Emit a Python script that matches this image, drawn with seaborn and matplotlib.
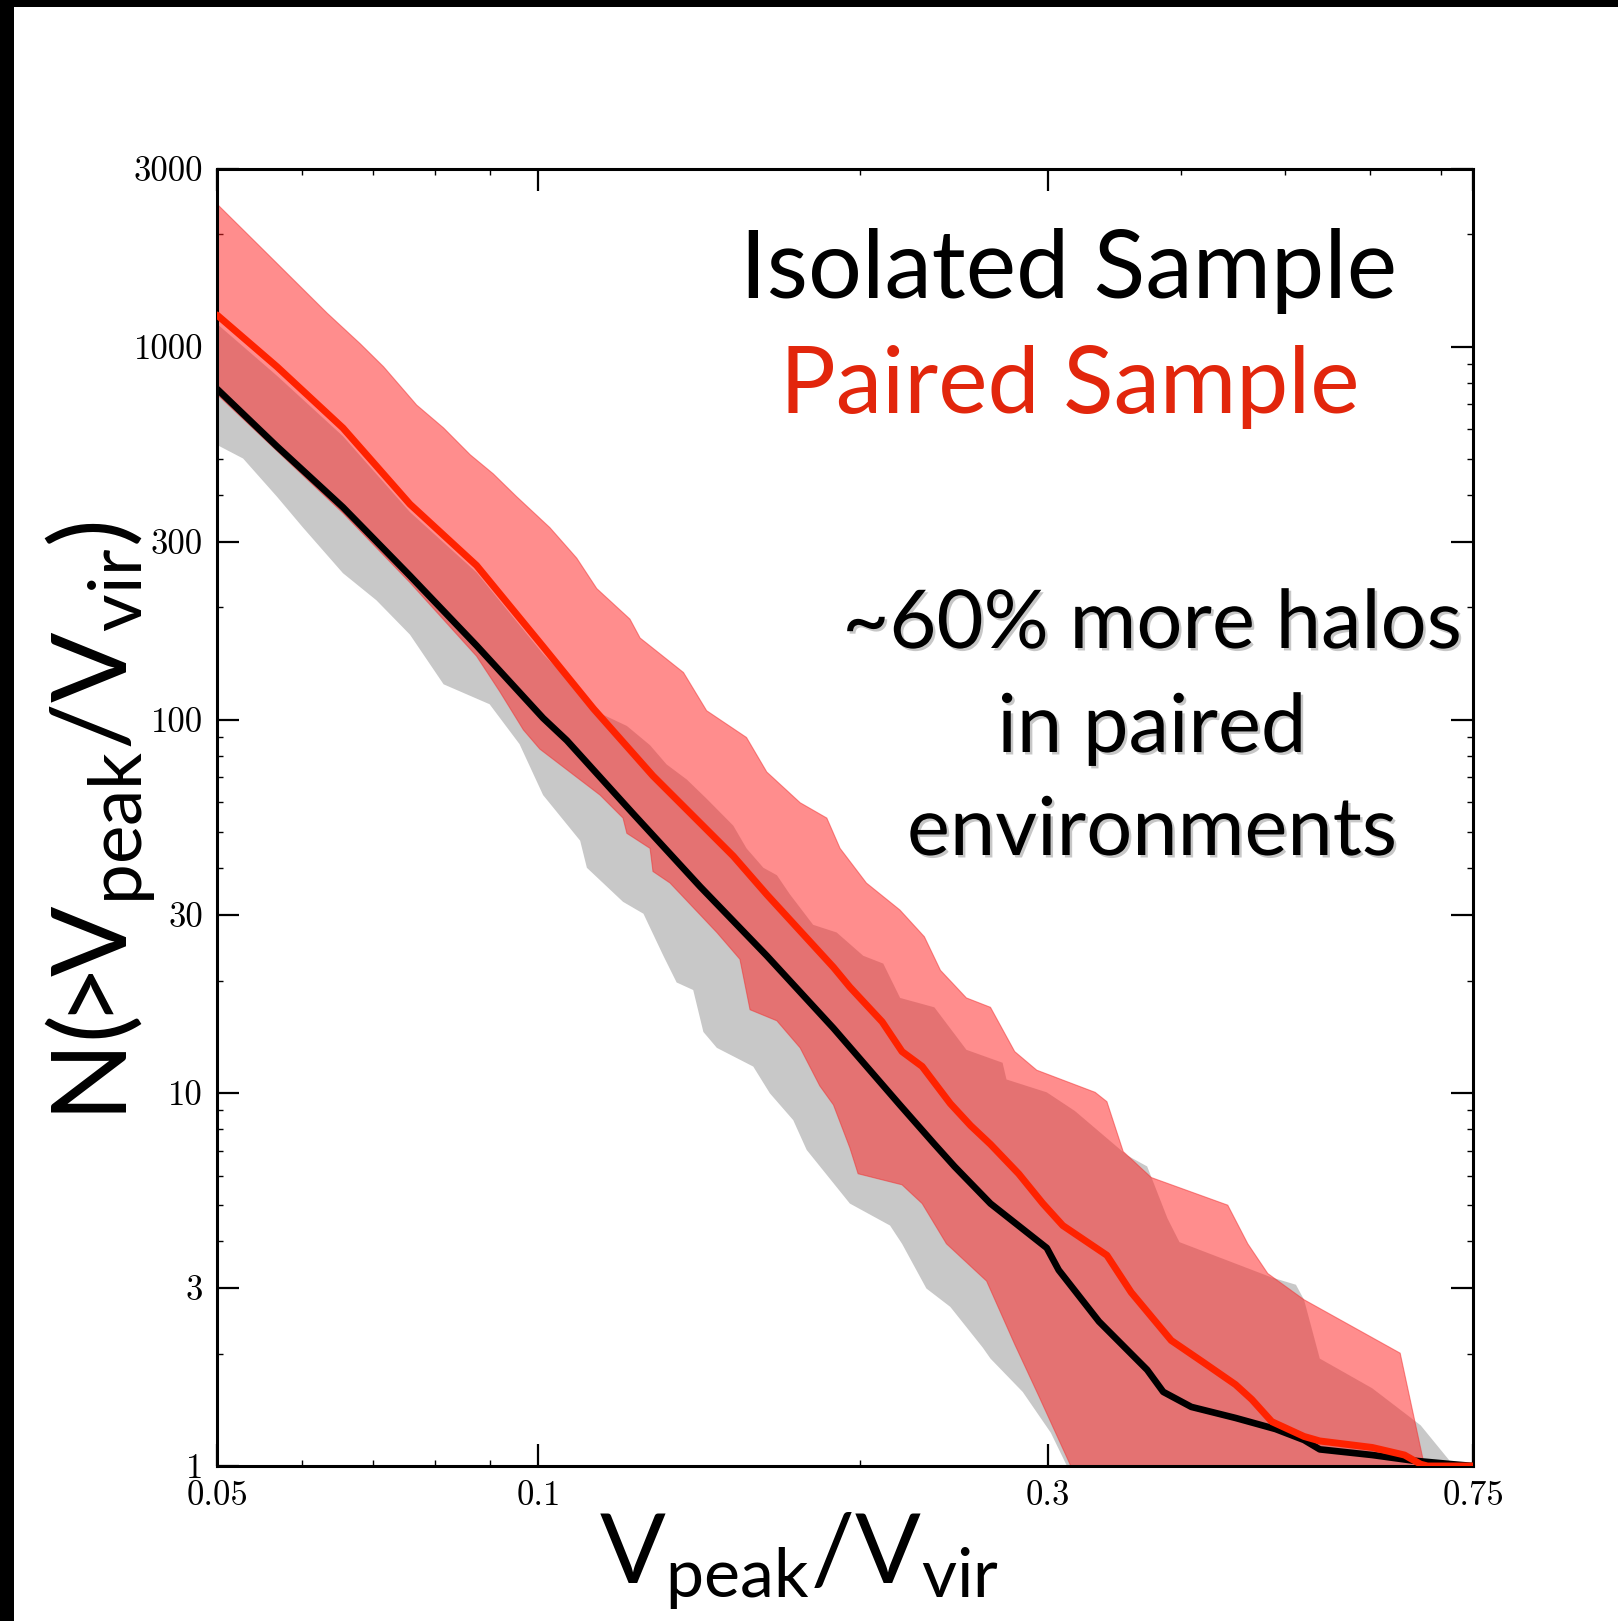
import numpy as np
import pandas as pd
import matplotlib
matplotlib.use("Agg")
import matplotlib.pyplot as plt
import matplotlib.ticker as mticker
import matplotlib.patheffects as pe
from matplotlib.patches import Rectangle
import seaborn as sns

# ---------------- data ----------------
# Isolated sample: mean cumulative count (black line)
iso_x = [0.05, 0.0569, 0.0656, 0.0758, 0.0875, 0.101, 0.1063, 0.1227, 0.1417, 0.1636,
         0.1889, 0.218, 0.2348, 0.2452, 0.265, 0.2992, 0.307, 0.3348, 0.3715, 0.3846,
         0.4086, 0.4495, 0.490, 0.521, 0.539, 0.6036, 0.6585, 0.7175, 0.75]
iso_y = [770, 540, 371, 243, 158, 101, 88, 55.9, 35.7, 23.3,
         14.9, 9.28, 7.29, 6.35, 5.05, 3.84, 3.35, 2.44, 1.81, 1.58,
         1.44, 1.345, 1.256, 1.174, 1.108, 1.07, 1.034, 1.011, 1.0]

# Paired sample: mean cumulative count (red line)
pair_x = [0.05, 0.0569, 0.0656, 0.0758, 0.0875, 0.101, 0.1126, 0.128, 0.1522, 0.1636,
          0.1889, 0.1957, 0.2098, 0.219, 0.2287, 0.243, 0.2539, 0.265, 0.2816, 0.2967,
          0.3097, 0.3406, 0.3589, 0.3913, 0.4194, 0.4495, 0.4655, 0.486, 0.521, 0.539,
          0.6036, 0.647, 0.67, 0.68, 0.75]
pair_y = [1215, 883, 605, 378, 259, 157, 107, 70.7, 43.1, 34.0,
          21.7, 19.2, 15.5, 12.9, 11.77, 9.36, 8.17, 7.28, 6.07, 5.05,
          4.41, 3.67, 2.92, 2.17, 1.895, 1.652, 1.508, 1.315, 1.2, 1.167,
          1.121, 1.07, 1.011, 1.0, 1.0]

# Isolated sample scatter band (grey)
iso_hi_x = [0.05, 0.0569, 0.0656, 0.0758, 0.0875, 0.101, 0.1142, 0.121, 0.1272, 0.1318,
            0.1377, 0.1437, 0.1522, 0.1566, 0.1624, 0.1672, 0.172, 0.1808, 0.1902, 0.2014,
            0.2103, 0.2181, 0.2348, 0.2516, 0.272, 0.2743, 0.2992, 0.3179, 0.3557, 0.3715,
            0.3881, 0.3983, 0.486, 0.512, 0.521, 0.539, 0.6036, 0.67, 0.7175, 0.732]
iso_hi_y = [1150, 835, 575, 360, 248, 150, 104, 96.2, 85.4, 75.9,
            69.1, 61.4, 52.0, 45.2, 40.1, 38.3, 34.0, 28.2, 26.9, 23.3,
            22.2, 17.96, 16.95, 13.04, 12.04, 10.86, 10.03, 8.94, 6.80, 6.35,
            4.61, 3.98, 3.20, 3.06, 2.79, 1.94, 1.615, 1.285, 1.011, 1.0]
iso_lo_x = [0.05, 0.0529, 0.0569, 0.0602, 0.0656, 0.0705, 0.0758, 0.0815, 0.09, 0.096,
            0.101, 0.1094, 0.111, 0.12, 0.1254, 0.1309, 0.1347, 0.1396, 0.1427, 0.1469,
            0.1589, 0.1647, 0.1732, 0.1783, 0.1957, 0.2134, 0.219, 0.2308, 0.243, 0.2606,
            0.265, 0.2841, 0.3018, 0.3125, 0.325, 0.732]
iso_lo_y = [545, 501, 396, 327, 247, 209, 169, 124.4, 110, 86,
            62.8, 47.4, 40.1, 32.5, 30.2, 23.3, 19.76, 18.86, 14.56, 13.2,
            11.76, 9.97, 8.45, 7.03, 5.05, 4.41, 3.94, 2.99, 2.67, 2.077,
            1.94, 1.579, 1.228, 1.0, 0.5, 0.5]

# Paired sample scatter band (red)
pair_hi_x = [0.05, 0.0569, 0.0634, 0.0681, 0.0716, 0.0769, 0.0815, 0.0863, 0.0907, 0.0954,
             0.1025, 0.1086, 0.1134, 0.1218, 0.1245, 0.1367, 0.1437, 0.1566, 0.1636, 0.1758,
             0.1862, 0.1916, 0.2028, 0.218, 0.2298, 0.2379, 0.2516, 0.265, 0.2792, 0.2928,
             0.3321, 0.3406, 0.3528, 0.3748, 0.442, 0.4615, 0.4818, 0.521, 0.641, 0.6755]
pair_hi_y = [2410, 1671, 1229, 1017, 883, 697, 605, 513, 456, 396,
             327, 271, 224.5, 186, 165.5, 133.8, 105.7, 89.6, 72.4, 59.9,
             54.5, 45.2, 36.5, 30.9, 26.2, 21.3, 17.96, 16.95, 12.9, 11.5,
             10.03, 9.47, 6.96, 5.93, 5.0, 3.94, 3.28, 2.79, 2.006, 1.0]
pair_lo_x = [0.05, 0.0569, 0.0656, 0.0758, 0.0875, 0.092, 0.0968, 0.1003, 0.1142, 0.12,
             0.121, 0.1272, 0.128, 0.1328, 0.1469, 0.1544, 0.1578, 0.1672, 0.1758, 0.1834,
             0.1889, 0.1957, 0.1992, 0.219, 0.2287, 0.241, 0.2628, 0.2792, 0.294, 0.3151,
             0.33, 0.6755]
pair_lo_y = [745, 525, 358, 233, 148, 118.9, 93.9, 83.4, 62.8, 54.5,
             49.6, 45.2, 39.2, 36.5, 26.9, 22.8, 16.7, 15.6, 13.2, 10.44,
             9.28, 7.12, 6.07, 5.67, 5.05, 3.94, 3.13, 2.12, 1.543, 1.0,
             0.5, 0.5]

x_ticks = [0.05, 0.1, 0.3, 0.75]
x_tick_labels = ["0.05", "0.1", "0.3", "0.75"]
x_minor = [0.06, 0.07, 0.08, 0.09, 0.2, 0.4, 0.5, 0.6, 0.7]
y_ticks = [1, 3, 10, 30, 100, 300, 1000, 3000]
y_tick_labels = ["1", "3", "10", "30", "100", "300", "1000", "3000"]

# ---------------- style ----------------
sns.set_theme(style="white")
plt.rcParams["font.family"] = ["Lato", "DejaVu Sans"]
plt.rcParams["mathtext.fontset"] = "custom"
plt.rcParams["mathtext.rm"] = "Lato"
plt.rcParams["mathtext.it"] = "Lato:italic"
plt.rcParams["mathtext.bf"] = "Lato:bold"

W, H = 1618, 1621
fig = plt.figure(figsize=(W / 100, H / 100), dpi=100)
fig.patch.set_facecolor("white")
ax = fig.add_axes([217 / W, 1 - 1466 / H, 1256 / W, 1297.5 / H])
ax.set_facecolor("white")
ax.set_xscale("log")
ax.set_yscale("log")

# bands
ax.fill(np.r_[iso_hi_x, iso_lo_x[::-1]], np.r_[iso_hi_y, iso_lo_y[::-1]],
        color="#C8C8C8", lw=0, zorder=1)
ax.fill(np.r_[pair_hi_x, pair_lo_x[::-1]], np.r_[pair_hi_y, pair_lo_y[::-1]],
        facecolor="#FF2424", edgecolor="#F03030", alpha=0.52, lw=0.8, zorder=2)

# mean lines
df_iso = pd.DataFrame({"x": iso_x, "y": iso_y})
df_pair = pd.DataFrame({"x": pair_x, "y": pair_y})
sns.lineplot(data=df_iso, x="x", y="y", ax=ax, color="black", lw=4.8,
             estimator=None, sort=False, zorder=3,
             solid_joinstyle="round", solid_capstyle="round")
sns.lineplot(data=df_pair, x="x", y="y", ax=ax, color="#FF2200", lw=5.0,
             estimator=None, sort=False, zorder=4,
             solid_joinstyle="round", solid_capstyle="round")

ax.set_xlim(0.05, 0.75)
ax.set_ylim(1, 3000)

ax.set_xticks(x_ticks, x_tick_labels, fontfamily="cmr10", fontsize=25)
ax.set_yticks(y_ticks, y_tick_labels, fontfamily="cmr10", fontsize=25)
ax.xaxis.set_minor_locator(mticker.FixedLocator(x_minor))
ax.xaxis.set_minor_formatter(mticker.NullFormatter())
y_minor = [m * 10 ** k for k in range(4) for m in (2, 4, 5, 6, 7, 8, 9) if m * 10 ** k < 3000]
ax.yaxis.set_minor_locator(mticker.FixedLocator(y_minor))
ax.yaxis.set_minor_formatter(mticker.NullFormatter())
ax.tick_params(which="major", direction="in", length=16, width=1.6,
               top=True, right=True, bottom=True, left=True, pad=10, colors="black")
ax.tick_params(which="minor", direction="in", length=4, width=1.0,
               top=True, right=True, bottom=True, left=True, colors="black")
for s in ax.spines.values():
    s.set_visible(True)
    s.set_linewidth(2.2)
    s.set_color("black")
ax.grid(False)

# axis labels
ax.set_xlabel(r"$\mathrm{V_{peak}/V_{vir}}$", fontsize=70, color="black")
ax.xaxis.set_label_coords(0.4634, -0.0902)
ax.xaxis.label.set_verticalalignment("baseline")
ax.set_ylabel(r"$\mathrm{N(\!\!>\!\!V_{peak}/V_{vir})}$", fontsize=75, color="black")
ax.yaxis.set_label_coords(-0.0709, 0.4963)
ax.yaxis.label.set_verticalalignment("baseline")

# annotations
fig.text(1069 / W, 1 - 298 / H, "Isolated Sample", ha="center", va="baseline",
         fontsize=68.5, color="black")
fig.text(1070 / W, 1 - 413 / H, "Paired Sample", ha="center", va="baseline",
         fontsize=67, color="#E2260C")
shadow = [pe.SimplePatchShadow(offset=(1.8, -1.8), shadow_rgbFace="black", alpha=0.22),
          pe.Normal()]
for txt, yb in [("~60% more halos", 648), ("in paired", 752), ("environments", 855)]:
    fig.text(1152 / W, 1 - yb / H, txt, ha="center", va="baseline", fontsize=58.5,
             color="black", path_effects=shadow)

# black frame strips of the original screenshot
fig.add_artist(Rectangle((0, 1 - 7 / H), 1, 7 / H, transform=fig.transFigure,
                         facecolor="black", edgecolor="none"))
fig.add_artist(Rectangle((0, 0), 14 / W, 1, transform=fig.transFigure,
                         facecolor="black", edgecolor="none"))

fig.savefig("out.png", dpi=100)
